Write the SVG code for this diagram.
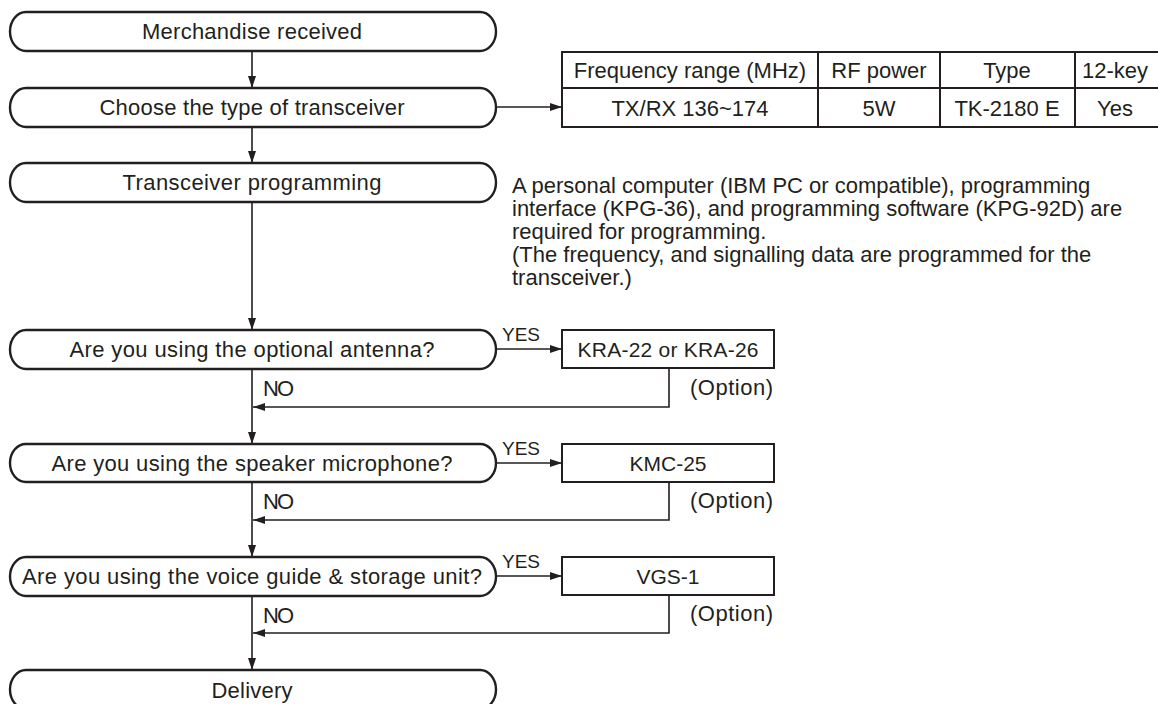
<svg xmlns="http://www.w3.org/2000/svg" width="1158" height="704" viewBox="0 0 1158 704">
<style>
.term{fill:#fff;stroke:#231f20;stroke-width:2.4}
.box{fill:#fff;stroke:#231f20;stroke-width:2}
.t{font-family:"Liberation Sans",Arial,sans-serif;font-size:22px;fill:#231f20}
.b{font-family:"Liberation Sans",Arial,sans-serif;font-size:21px;fill:#231f20}
.c{text-anchor:middle}
.n{font-family:"Liberation Sans",Arial,sans-serif;font-size:22px;fill:#231f20}
.y{font-family:"Liberation Sans",Arial,sans-serif;font-size:19px;fill:#231f20}
.ln{fill:none;stroke:#231f20;stroke-width:1.6}
.tb{fill:none;stroke:#231f20;stroke-width:2}
</style>
<defs>
<marker id="ah" viewBox="0 0 12 8" refX="12" refY="4" markerWidth="12" markerHeight="8" markerUnits="userSpaceOnUse" orient="auto">
<path d="M0,0 L12,4 L0,8 Z" fill="#231f20"/>
</marker>
</defs>
<rect width="1158" height="704" fill="#fff"/>
<g id="connectors">
<line class="ln" x1="252" y1="51" x2="252" y2="88" marker-end="url(#ah)"/>
<line class="ln" x1="252" y1="127" x2="252" y2="163" marker-end="url(#ah)"/>
<line class="ln" x1="496" y1="107" x2="562" y2="107" marker-end="url(#ah)"/>
<line class="ln" x1="252" y1="202" x2="252" y2="330" marker-end="url(#ah)"/>
<line class="ln" x1="252" y1="369" x2="252" y2="444" marker-end="url(#ah)"/>
<line class="ln" x1="252" y1="482" x2="252" y2="557" marker-end="url(#ah)"/>
<line class="ln" x1="252" y1="596" x2="252" y2="670" marker-end="url(#ah)"/>
<line class="ln" x1="496" y1="349" x2="562" y2="349" marker-end="url(#ah)"/>
<line class="ln" x1="496" y1="463" x2="562" y2="463" marker-end="url(#ah)"/>
<line class="ln" x1="496" y1="576" x2="562" y2="576" marker-end="url(#ah)"/>
<polyline class="ln" points="669,368 669,407 253,407" marker-end="url(#ah)"/>
<polyline class="ln" points="669,482 669,520 253,520" marker-end="url(#ah)"/>
<polyline class="ln" points="669,595 669,633 253,633" marker-end="url(#ah)"/>
<text class="y" x="502" y="341">YES</text>
<text class="y" x="502" y="455">YES</text>
<text class="y" x="502" y="568">YES</text>
<text class="n" x="263" y="396" textLength="31">NO</text>
<text class="n" x="263" y="509" textLength="31">NO</text>
<text class="n" x="263" y="623" textLength="31">NO</text>
<text class="n" x="690" y="395" textLength="83">(Option)</text>
<text class="n" x="690" y="508" textLength="83">(Option)</text>
<text class="n" x="690" y="621" textLength="83">(Option)</text>
</g>
<g id="n-merch">
<rect class="term" x="10" y="12" width="486" height="39" rx="16" ry="19.5"/>
<text class="t c" x="252" y="39" textLength="220">Merchandise received</text>
</g>
<g id="n-choose">
<rect class="term" x="10" y="88" width="486" height="39" rx="16" ry="19.5"/>
<text class="t c" x="252" y="115" textLength="305">Choose the type of transceiver</text>
</g>
<g id="n-table">
<rect class="tb" x="562" y="52" width="610" height="75"/>
<line class="tb" x1="562" y1="88" x2="1172" y2="88"/>
<line class="tb" x1="818" y1="52" x2="818" y2="127"/>
<line class="tb" x1="940" y1="52" x2="940" y2="127"/>
<line class="tb" x1="1075" y1="52" x2="1075" y2="127"/>
<text class="n c" x="690" y="78">Frequency range (MHz)</text>
<text class="n c" x="879" y="78">RF power</text>
<text class="n c" x="1007" y="78">Type</text>
<text class="n" x="1082" y="78">12-key</text>
<text class="n c" x="690" y="116">TX/RX 136~174</text>
<text class="n c" x="879" y="116">5W</text>
<text class="n c" x="1007" y="116">TK-2180 E</text>
<text class="n" x="1097" y="116">Yes</text>
</g>
<g id="n-prog">
<rect class="term" x="10" y="163" width="486" height="39" rx="16" ry="19.5"/>
<text class="t c" x="252" y="190" textLength="259">Transceiver programming</text>
</g>
<g id="n-note">
<text class="n" x="512" y="193">A personal computer (IBM PC or compatible), programming</text>
<text class="n" x="512" y="216">interface (KPG-36), and programming software (KPG-92D) are</text>
<text class="n" x="512" y="239">required for programming.</text>
<text class="n" x="512" y="262">(The frequency, and signalling data are programmed for the</text>
<text class="n" x="512" y="285">transceiver.)</text>
</g>
<g id="n-antenna">
<rect class="term" x="10" y="330" width="486" height="39" rx="16" ry="19.5"/>
<text class="t c" x="252" y="357" textLength="365">Are you using the optional antenna?</text>
</g>
<g id="n-kra">
<rect class="box" x="562" y="330" width="212" height="38"/>
<text class="b c" x="668" y="357" textLength="181">KRA-22 or KRA-26</text>
</g>
<g id="n-speaker">
<rect class="term" x="10" y="444" width="486" height="38" rx="16" ry="19"/>
<text class="t c" x="252" y="471" textLength="401">Are you using the speaker microphone?</text>
</g>
<g id="n-kmc">
<rect class="box" x="562" y="444" width="212" height="38"/>
<text class="b c" x="668" y="471">KMC-25</text>
</g>
<g id="n-voice">
<rect class="term" x="10" y="557" width="486" height="39" rx="16" ry="19.5"/>
<text class="t c" x="252" y="584" textLength="460">Are you using the voice guide &amp; storage unit?</text>
</g>
<g id="n-vgs">
<rect class="box" x="562" y="557" width="212" height="38"/>
<text class="b c" x="668" y="584">VGS-1</text>
</g>
<g id="n-delivery">
<rect class="term" x="10" y="670" width="486" height="39" rx="16" ry="19.5"/>
<text class="t c" x="252" y="698" textLength="81">Delivery</text>
</g>
</svg>
